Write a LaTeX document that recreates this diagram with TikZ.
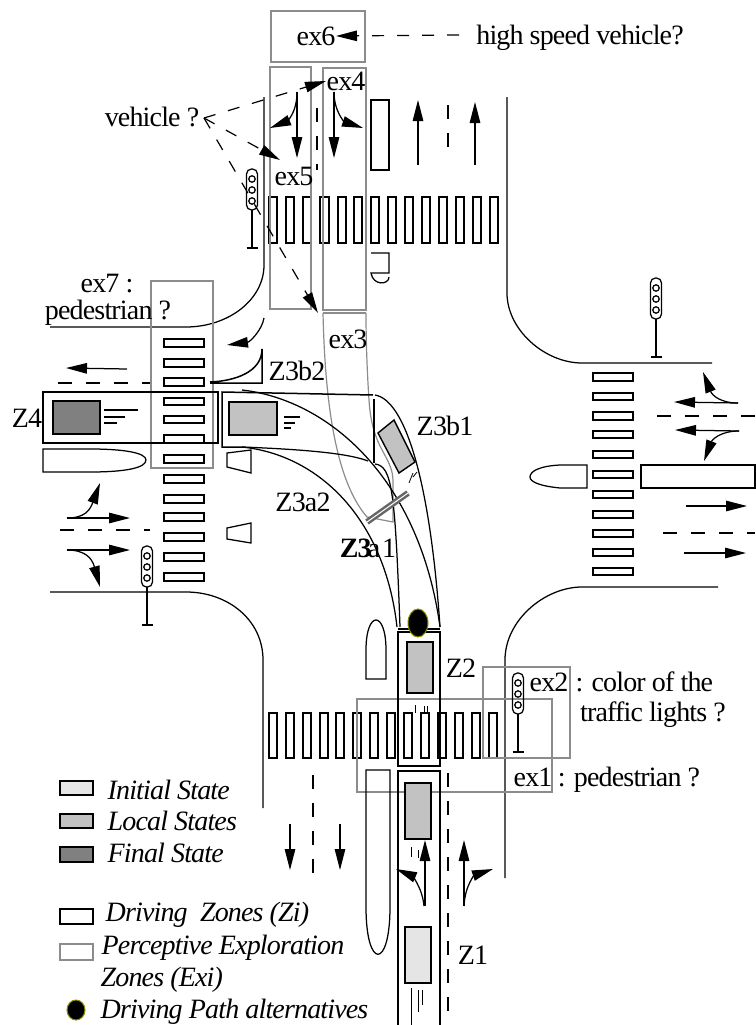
\documentclass[tikz,border=0pt]{standalone}
\usepackage{fontspec}
\setmainfont{Liberation Serif}[LetterSpace=-3]
\usetikzlibrary{arrows.meta}
\definecolor{zonegray}{RGB}{140,140,140}
\definecolor{dotolive}{RGB}{140,140,0}
\tikzset{
        bar/.style={draw, line width=1.2pt},
        exzone/.style={draw=zonegray, line width=1.4pt},
        drivezone/.style={draw, line width=1.5pt},
        initcar/.style={draw, line width=1.4pt, fill=black!10},
        localcar/.style={draw, line width=1.4pt, fill=black!24},
        finalcar/.style={draw, line width=1.4pt, fill=black!50},
        pathdot/.style={draw=dotolive, fill=black, line width=1pt},
        lane/.style={dashed, dash pattern=on 14pt off 14pt, line width=1.2pt},
        look/.style={dashed, dash pattern=on 12pt off 13pt, line width=1.2pt},
        lbl/.style={font=\fontsize{28}{28}\selectfont, inner sep=0pt, text depth=0pt},
        legend/.style={font=\fontsize{28}{28}\selectfont\itshape, inner sep=0pt, anchor=west},
}
\newcommand{\feu}[2]{%
        \draw[rounded corners=5pt] (#1-5.5,#2) rectangle (#1+5.5,#2+41);
        \draw (#1,#2+10) circle (3.2) (#1,#2+21) circle (3.2) (#1,#2+32) circle (3.2);
        \draw (#1,#2+41)--(#1,#2+79);
        \draw (#1-5.5,#2+79)--(#1+5.5,#2+79);
}
\begin{document}
\begin{tikzpicture}[x=1pt, y=-1pt, line width=1.25pt, >={Triangle[length=21pt, width=10.5pt]}]
        \useasboundingbox (0,0) rectangle (755,1025);

        \draw (264,97)--(264,265) .. controls (264,300) and (228,327) .. (186,327)--(50,327);
        \draw (50,592)--(186,592) .. controls (228,592) and (263,620) .. (263,660)--(263,808);
        \draw (507,97)--(507,293) .. controls (507,330) and (545,363) .. (582,363)--(712,363);
        \draw (718,587)--(582,587) .. controls (545,587) and (505,620) .. (505,660)--(505,878);

        \draw[bar] (269,197) rectangle +(8,46) (286,197) rectangle +(8,46) (303,197) rectangle +(8,46) (320,197) rectangle +(9,46) (338,197) rectangle +(8,46) (354,197) rectangle +(8,46) (371,197) rectangle +(8,46) (388,197) rectangle +(8,46) (405,197) rectangle +(8,46) (422,197) rectangle +(8,46) (439,197) rectangle +(8,46) (456,197) rectangle +(8,46) (473,197) rectangle +(8,46) (490,197) rectangle +(8,46);
        \draw[bar] (269,713) rectangle +(8,45) (286,713) rectangle +(8,45) (303,713) rectangle +(8,45) (320,713) rectangle +(8,45) (336,713) rectangle +(8,45) (353,713) rectangle +(8,45) (370,713) rectangle +(8,45) (387,713) rectangle +(8,45) (404,713) rectangle +(8,45) (421,713) rectangle +(8,45) (438,713) rectangle +(8,45) (455,713) rectangle +(8,45) (472,713) rectangle +(8,45) (489,713) rectangle +(8,45);
        \draw[bar] (164,339) rectangle +(40,8) (164,359) rectangle +(40,8) (164,378) rectangle +(40,8) (164,398) rectangle +(40,7) (164,416) rectangle +(40,7) (164,435) rectangle +(40,8) (164,455) rectangle +(40,8) (164,475) rectangle +(40,8) (164,495) rectangle +(40,8) (164,513) rectangle +(40,8) (164,533) rectangle +(40,8) (164,553) rectangle +(40,8) (164,573) rectangle +(40,8);
        \draw[bar] (593,373) rectangle +(40,8) (593,393) rectangle +(40,7) (593,412) rectangle +(40,8) (593,431) rectangle +(40,7) (593,451) rectangle +(40,7) (593,471) rectangle +(40,7) (593,491) rectangle +(40,7) (593,511) rectangle +(40,7) (593,530) rectangle +(40,7) (593,549) rectangle +(40,7) (593,568) rectangle +(40,7);

        \draw[exzone] (271,11) rectangle (365,62);
        \draw[exzone] (270,67) rectangle (311,309);
        \draw[exzone] (323,68) rectangle (366,310);
        \draw[exzone] (151,281) rectangle (213,468);
        \draw[exzone] (357,699) rectangle (552,792);
        \draw[exzone] (483,667) rectangle (570,758);
        \draw[zonegray, line width=2pt] (323,313)--(366,313);
        \draw[zonegray, line width=1.2pt] (323,313) .. controls (325,400) and (335,480) .. (367,517) -- (393,522)--(393,480) .. controls (392,455) and (372,450) .. (369,400) .. controls (367,370) and (366,340) .. (366,313);

        \draw[drivezone] (43,392) rectangle (218,443);
        \draw[drivezone] (243,447)--(222,447)--(222,392)--(373,395);
        \draw (243,447) .. controls (290,449) and (345,452) .. (368,461);
        \draw (242,390) .. controls (330,400) and (420,480) .. (440,627);
        \draw (242,447) .. controls (320,455) and (385,520) .. (397,627);
        \draw (375,395) .. controls (405,400) and (430,480) .. (440,627);
        \draw (375,464) .. controls (392,466) and (395,490) .. (400,627);
        \draw[line width=1.7pt] (374,399)--(374,463);
        \draw[drivezone] (398,632) rectangle (440,766);
        \draw[line width=1.7pt] (398,629)--(440,629);
        \draw[drivezone] (398,1025)--(398,771)--(440,771)--(440,1025);
        \draw[black!60, line width=6pt] (367,522)--(408,493);
        \draw[white, line width=1pt] (367,522)--(408,493);

        \draw[drivezone] (210,382) .. controls (235,381) and (262,372) .. (262,349)--(262,383)--(210,383);

        \draw (90,449)--(43,449)--(43,472)--(90,472) .. controls (125,472) and (146,468) .. (146,460) .. controls (146,453) and (125,449) .. (90,449);
        \draw (227,453)--(251,450)--(251,473)--(227,467)--cycle;
        \draw (227,528)--(251,523)--(251,543)--(227,539)--cycle;
        \draw (641,465) rectangle (755,488);
        \draw (560,465)--(587,465)--(587,488)--(560,488) .. controls (540,486) and (530,482) .. (530,477) .. controls (530,471) and (540,466) .. (560,465);
        \draw (371,100) rectangle (389,170);
        \draw (371,253)--(389,253)--(389,273)--(371,273) .. controls (373,286) and (389,285) .. (389,277);
        \draw (366,650)--(366,679)--(386,679)--(386,650) .. controls (386,610) and (366,610) .. (366,650);
        \draw (366,907)--(366,770)--(390,770)--(390,907) .. controls (390,970) and (366,970) .. (366,907);

        \draw[finalcar] (53,401) rectangle (100,434);
        \draw[localcar] (229,402) rectangle (277,435);
        \draw[localcar] (378,433)--(394,420)--(415,462)--(399,473)--cycle;
        \draw[localcar] (407,642) rectangle (433,693);
        \draw[localcar] (405,783) rectangle (431,839);
        \draw[initcar] (405,927) rectangle (431,983);

        \draw (104,410)--(138,410) (104,417)--(125,417) (104,423)--(117,423);
        \draw (284,417)--(300,417) (284,423)--(295,423) (284,428)--(291,428);
        \draw[line width=.8pt] (409,483)--(413,473) (413,477)--(417,472);
        \draw[line width=.8pt] (415,705)--(415,713) (424,706)--(424,713) (427,706)--(427,713);
        \draw[line width=.8pt] (411,847)--(411,857) (418,850)--(418,858);
        \draw[line width=.8pt] (411,988)--(411,1025) (418,990)--(418,1012) (422,990)--(422,1005);

        \draw[->] (127,369)--(66,368);
        \draw[lane] (58,383)--(150,383);
        \draw[->] (67,518)--(130,518);
        \draw[->] (67,518) .. controls (85,518) and (90,510) .. (100,483);
        \draw[lane] (60,530)--(150,530);
        \draw[->] (67,550)--(130,550);
        \draw[->] (67,550) .. controls (85,550) and (92,558) .. (100,587);
        \draw[->] (264,318) .. controls (262,330) and (250,342) .. (227,345);
        \draw[->] (297,92)--(297,158);
        \draw[->] (297,92) .. controls (297,115) and (285,122) .. (270,128);
        \draw[->] (334,92)--(334,158);
        \draw[->] (334,92) .. controls (334,112) and (345,122) .. (363,128);
        \draw[lane] (317,108)--(317,170);
        \draw[->] (418,165)--(418,100);
        \draw[lane] (448,105)--(448,150);
        \draw[->] (475,165)--(475,102);
        \draw[->] (738,403)--(674,402);
        \draw[->] (738,403) .. controls (720,403) and (712,395) .. (703,372);
        \draw[lane] (755,416)--(652,416);
        \draw[->] (739,431)--(675,430);
        \draw[->] (739,431) .. controls (720,431) and (712,440) .. (704,461);
        \draw[->] (686,506)--(747,506);
        \draw[lane] (663,533)--(755,533);
        \draw[->] (684,553)--(746,553);
        \draw[->] (290,824)--(290,870);
        \draw[->] (340,824)--(340,870);
        \draw[lane] (313,775)--(313,878);
        \draw[lane] (448,773)--(448,1015);
        \draw[->] (425,906)--(425,840);
        \draw[->] (424,906) .. controls (422,885) and (410,875) .. (396,869);
        \draw[->] (464,906)--(464,840);
        \draw[->] (464,906) .. controls (465,885) and (475,875) .. (493,869);

        \feu{252}{169}
        \feu{147}{546}
        \feu{656}{278}
        \feu{518}{673}

        \filldraw[pathdot] (418,623) ellipse (10 and 14);

        \node[lbl] (ex6) at (316,36) {ex6};
        \node[lbl] (hispeed) at (580,35) {high speed vehicle?};
        \node[lbl] (vehicle) at (152,117) {vehicle ?};
        \node[lbl] (ex4) at (346,81) {ex4};
        \node[lbl] (ex5) at (294,176) {ex5};
        \node[lbl] (ex3) at (348,339) {ex3};
        \node[lbl] (ex7) at (107,283) {ex7 :};
        \node[lbl] (pedestrianA) at (108,310) {pedestrian ?};
        \node[lbl] (zb2) at (297,371) {Z3b2};
        \node[lbl] (zb1) at (445,426) {Z3b1};
        \node[lbl] (za2) at (303,502) {Z3a2};
        \node[lbl] (za1) at (368,548) {\textbf{Z3}\kern-3pt a\kern2pt 1};
        \node[lbl] (zfour) at (27,418) {Z4};
        \node[lbl] (ztwo) at (461,668) {Z2};
        \node[lbl] (zone) at (473,955) {Z1};
        \node[lbl] (ex2) at (549,682) {ex2};
        \node[lbl, anchor=west] (colour) at (575,682) {:\kern2pt\ color of the};
        \node[lbl] (lights) at (653,712) {traffic lights ?};
        \node[lbl] (ex1) at (533,777) {ex1};
        \node[lbl] (pedestrianB) at (629,777) {: pedestrian ?};

        \coordinate (hispeedend) at (459,35);
        \coordinate (vehicletip) at (204,118);
        \coordinate (ex5tip) at (280,160);
        \coordinate (ex3tip) at (318,313);
        \draw[look, ->] (hispeedend)--(ex6.east);
        \draw[look, ->] (vehicletip)--(ex4.west);
        \draw[look, ->] (vehicletip)--(ex5tip);
        \draw[look, ->] (vehicletip)--(ex3tip);

        \draw[initcar] (60,781) rectangle (93,795);
        \draw[localcar] (60,814) rectangle (93,828);
        \draw[finalcar] (60,847) rectangle (93,862);
        \draw[drivezone] (60,909) rectangle (93,924);
        \draw[exzone] (60,944) rectangle (93,960);
        \filldraw[pathdot] (76,1010) ellipse (9 and 10);
        \node[legend] (initial) at (107,790) {Initial State};
        \node[legend] (local) at (107,821) {Local States};
        \node[legend] (final) at (107,853) {Final State};
        \node[legend] (driving) at (105,915) {Driving\ \ Zones (Zi)};
        \node[legend] (perceptive) at (101,948) {Perceptive Exploration};
        \node[legend] (zonesexi) at (100,980) {Zones (Exi)};
        \node[legend] (paths) at (100,1012) {Driving Path alternatives};
\end{tikzpicture}
\end{document}
